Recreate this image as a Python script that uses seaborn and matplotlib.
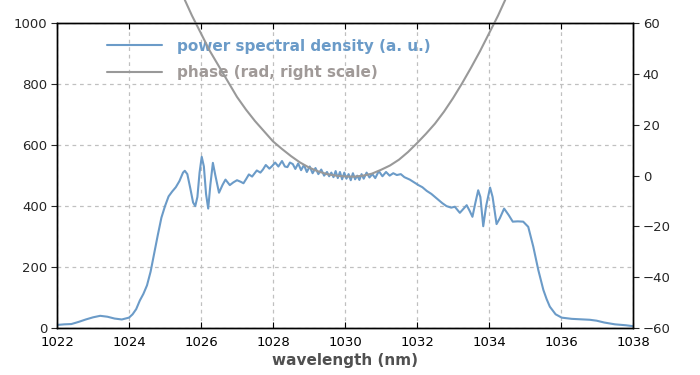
import numpy as np
import pandas as pd
import matplotlib
matplotlib.use("Agg")
import matplotlib.pyplot as plt
import seaborn as sns

# power spectral density (a. u.)
psd_wl = [1022.0, 1022.2, 1022.4, 1022.6, 1022.8, 1023.0, 1023.2, 1023.4, 1023.6, 1023.8,
          1024.0, 1024.1, 1024.2, 1024.3, 1024.4, 1024.5, 1024.6, 1024.7, 1024.8, 1024.9,
          1025.0, 1025.1, 1025.2, 1025.3, 1025.4, 1025.5, 1025.55, 1025.62, 1025.7, 1025.78,
          1025.84, 1025.9, 1025.96, 1026.02, 1026.08, 1026.14, 1026.2, 1026.26, 1026.33, 1026.4,
          1026.5, 1026.6, 1026.68, 1026.8, 1026.9, 1027.0, 1027.1, 1027.18, 1027.26, 1027.33,
          1027.42, 1027.55, 1027.65, 1027.72, 1027.8, 1027.9, 1027.98, 1028.06, 1028.15, 1028.25,
          1028.33, 1028.4, 1028.47, 1028.55, 1028.62, 1028.7, 1028.78, 1028.86, 1028.94, 1029.02,
          1029.1, 1029.18, 1029.26, 1029.34, 1029.42, 1029.5, 1029.56, 1029.62, 1029.68, 1029.74,
          1029.8, 1029.86, 1029.92, 1029.98, 1030.04, 1030.1, 1030.16, 1030.22, 1030.28, 1030.34,
          1030.4, 1030.46, 1030.52, 1030.6, 1030.68, 1030.76, 1030.84, 1030.94, 1031.04, 1031.14,
          1031.24, 1031.34, 1031.44, 1031.55, 1031.65, 1031.8, 1031.92, 1032.04, 1032.15, 1032.27,
          1032.4, 1032.55, 1032.7, 1032.82, 1032.95, 1033.05, 1033.12, 1033.19, 1033.28, 1033.38,
          1033.46, 1033.54, 1033.62, 1033.7, 1033.76, 1033.84, 1033.92, 1034.03, 1034.1, 1034.21,
          1034.3, 1034.42, 1034.55, 1034.66, 1034.8, 1034.95, 1035.09, 1035.23, 1035.37, 1035.51,
          1035.6, 1035.69, 1035.85, 1036.02, 1036.3, 1036.62, 1036.8, 1036.99, 1037.2, 1037.5,
          1037.8, 1038.0]
psd_val = [10, 12, 13, 20, 28, 35, 40, 37, 31, 28,
           34, 45, 62, 90, 112, 140, 185, 245, 305, 362,
           400, 432, 448, 462, 482, 510, 516, 505, 460, 412,
           400, 430, 510, 562, 530, 440, 392, 470, 542, 500,
           444, 470, 487, 469, 478, 485, 480, 475, 490, 504,
           497, 517, 510, 520, 535, 523, 532, 543, 530, 548,
           530, 528, 543, 538, 522, 540, 518, 535, 512, 530,
           508, 525, 505, 520, 500, 512, 498, 510, 495, 515,
           492, 512, 488, 510, 490, 505, 485, 508, 488, 500,
           486, 505, 490, 510, 494, 505, 492, 515, 498, 512,
           500, 508, 502, 505, 495, 487, 478, 469, 462, 450,
           440, 425, 410, 400, 395, 398, 388, 378, 390, 403,
           385, 365, 410, 452, 430, 334, 400, 461, 430, 341,
           360, 392, 370, 349, 350, 349, 332, 267, 190, 125,
           95, 70, 45, 34, 30, 28, 27, 24, 18, 12,
           9, 6]

# spectral phase (rad), right scale
phase_wl = [1025.55, 1025.75, 1026.0, 1026.25, 1026.5, 1026.75, 1027.0, 1027.25, 1027.5, 1027.75,
            1028.0, 1028.25, 1028.5, 1028.75, 1029.0, 1029.25, 1029.5, 1029.75, 1030.0, 1030.25,
            1030.5, 1030.75, 1031.0, 1031.25, 1031.5, 1031.75, 1032.0, 1032.25, 1032.5, 1032.75,
            1033.0, 1033.25, 1033.5, 1033.75, 1034.0, 1034.25, 1034.45]
phase_val = [69.2, 63, 56, 49, 43, 37, 31, 26, 21.5, 17.5,
             13.5, 10.5, 7.7, 5.2, 3.2, 1.7, 0.6, 0.0, -0.3, -0.4,
             0.0, 0.8, 2.3, 4.0, 6.3, 9.3, 12.8, 16.5, 20.5, 25.2,
             30.5, 36.3, 42.5, 49, 56, 63, 69.2]

blue = "#6b9bc8"
grey = "#999999"

sns.set_style("white")
plt.rcParams['font.family'] = ['DejaVu Sans']

fig = plt.figure(figsize=(7, 3.75), dpi=100)
ax = fig.add_axes([57 / 700, 47 / 375, 576 / 700, 304.7 / 375])
ax2 = ax.twinx()

df_psd = pd.DataFrame({"wl": psd_wl, "psd": psd_val})
df_ph = pd.DataFrame({"wl": phase_wl, "phase": phase_val})

sns.lineplot(data=df_psd, x="wl", y="psd", ax=ax, color=blue, linewidth=1.5,
             estimator=None, legend=False)
sns.lineplot(data=df_ph, x="wl", y="phase", ax=ax2, color=grey, linewidth=1.5,
             estimator=None, legend=False)
for line in ax2.get_lines():
    line.set_clip_on(False)

ax.set_xlim(1022, 1038)
ax.set_ylim(0, 1000)
ax2.set_ylim(-60, 60)
ax.set_xticks(np.arange(1022, 1039, 2))
ax.set_yticks(np.arange(0, 1001, 200))
ax2.set_yticks(np.arange(-60, 61, 20))

ax.grid(True, linestyle=(0, (3, 3)), color="#c0c0c0", linewidth=0.9)
ax2.grid(False)
for a in (ax, ax2):
    for s in a.spines.values():
        s.set_color("black")
        s.set_linewidth(1.0)

ax.tick_params(axis="x", direction="in", top=True, bottom=True, length=4,
               labelsize=9.5, colors="black", pad=6)
ax.tick_params(axis="y", direction="out", left=True, length=4, labelsize=9.5, pad=3)
ax2.tick_params(axis="y", direction="out", right=True, length=4, labelsize=9.5, pad=3)

ax.set_xlabel("wavelength (nm)", fontsize=11, fontweight="bold", color="#505050", labelpad=3)
ax.set_ylabel("")
ax2.set_ylabel("")

# legend sits on the left axes, below the phase curve
handles = ax.get_lines()[:1] + ax2.get_lines()[:1]
labels = ["power spectral density (a. u.)", "phase (rad, right scale)"]
leg = ax.legend(handles, labels, loc="upper left", bbox_to_anchor=(0.063, 0.995),
                frameon=False, handlelength=3.6, handletextpad=1.0, labelspacing=0.75,
                prop={"size": 11, "weight": "bold"})
for txt, col in zip(leg.get_texts(), [blue, "#a09a98"]):
    txt.set_color(col)

fig.savefig("out.png", dpi=100)
